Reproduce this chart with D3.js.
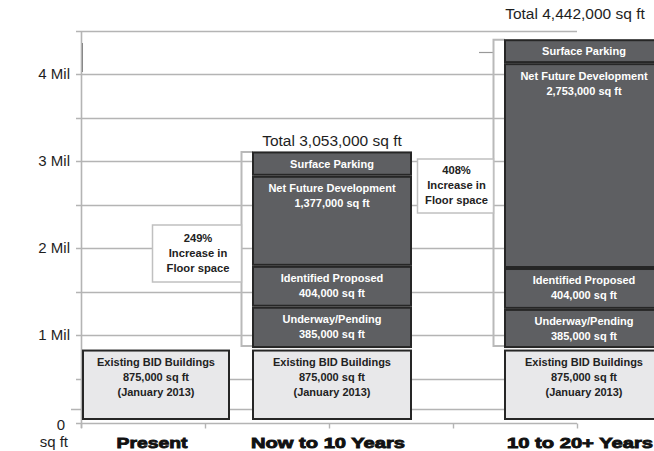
<!DOCTYPE html>
<html>
<head>
<meta charset="utf-8">
<script src="https://cdn.jsdelivr.net/npm/d3@7"></script>
<style>
  html, body { margin: 0; padding: 0; background: #fff; }
  svg { display: block; }
  text { font-family: "Liberation Sans", Arial, sans-serif; }
</style>
</head>
<body>
<svg id="chart" width="654" height="451"></svg>
<script>
// ---------------- DATA ----------------
const categories = ["Present", "Now to 10 Years", "10 to 20+ Years"];
const segmentNames = ["Existing BID Buildings", "Underway/Pending", "Identified Proposed", "Net Future Development", "Surface Parking"];
// segment heights (sq ft) as drawn in the picture, bottom to top
const presentValues = [850000, 0, 0, 0, 0];
const nowValues = [850000, 475000, 470000, 1035000, 280000];
const laterValues = [850000, 450000, 470000, 2355000, 275000];
// segment label lines
const presentLabels = [["Existing BID Buildings", "875,000 sq ft", "(January 2013)"], [], [], [], []];
const nowLabels = [["Existing BID Buildings", "875,000 sq ft", "(January 2013)"], ["Underway/Pending", "385,000 sq ft"], ["Identified Proposed", "404,000 sq ft"], ["Net Future Development", "1,377,000 sq ft"], ["Surface Parking"]];
const laterLabels = [["Existing BID Buildings", "875,000 sq ft", "(January 2013)"], ["Underway/Pending", "385,000 sq ft"], ["Identified Proposed", "404,000 sq ft"], ["Net Future Development", "2,753,000 sq ft"], ["Surface Parking"]];
const totalLabels = ["", "Total 3,053,000 sq ft", "Total 4,442,000 sq ft"];
const increaseLabels = ["", "249%", "408%"];
const increaseText = ["Increase in", "Floor space"];
const yTicks = [0, 1000000, 2000000, 3000000, 4000000];
const yTickLabels = ["0", "1 Mil", "2 Mil", "3 Mil", "4 Mil"];
const gridValues = [500000, 1000000, 1500000, 2000000, 2500000, 3000000, 3500000, 4000000, 4500000];

// ---------------- LAYOUT ----------------
const svg = d3.select("#chart");
const y = d3.scaleLinear().domain([0, 4500000]).range([422, 30.5]);
const xCenter = d3.scaleOrdinal().domain(categories).range([156, 332, 584]);
const barWidth = d3.scaleOrdinal().domain(categories).range([146, 158, 158]);
const xAxisScale = d3.scaleLinear().domain([0, 4]).range([81, 577]);

const seriesValues = [presentValues, nowValues, laterValues];
const seriesLabels = [presentLabels, nowLabels, laterLabels];

const gridColor = "#b4b4b4";
const darkFill = "#5e5f62";
const lightFill = "#e8e8ea";
const borderColor = "#262626";
const bracketColor = "#b9b9b9";

// gridlines
const grid = svg.append("g");
grid.selectAll("line.g").data(gridValues).join("line")
  .attr("x1", 76).attr("x2", 577)
  .attr("y1", d => Math.round(y(d)) + 0.5).attr("y2", d => Math.round(y(d)) + 0.5)
  .attr("stroke", gridColor).attr("stroke-width", 1.6);
// low reference line near the base
grid.append("line")
  .attr("x1", 71).attr("x2", 577)
  .attr("y1", Math.round(y(150000)) + 0.5).attr("y2", Math.round(y(150000)) + 0.5)
  .attr("stroke", gridColor).attr("stroke-width", 1.6);
// partial quarter line near the top right
grid.append("line")
  .attr("x1", 479).attr("x2", 494)
  .attr("y1", Math.round(y(4250000)) + 0.5).attr("y2", Math.round(y(4250000)) + 0.5)
  .attr("stroke", "#999").attr("stroke-width", 1.2);

// y axis line
svg.append("line").attr("x1", 81.5).attr("x2", 81.5).attr("y1", 31).attr("y2", 428)
  .attr("stroke", gridColor).attr("stroke-width", 1.6);
svg.append("line").attr("x1", 82.5).attr("x2", 82.5).attr("y1", 43).attr("y2", 72)
  .attr("stroke", "#888").attr("stroke-width", 1);

// x axis
const xAxisG = svg.append("g").attr("transform", "translate(0,423.5)")
  .call(d3.axisBottom(xAxisScale).ticks(4).tickSize(5).tickFormat(""));
xAxisG.select(".domain").attr("stroke", gridColor).attr("stroke-width", 1.6).attr("d", "M76,0H577");
xAxisG.selectAll(".tick line").attr("stroke", gridColor).attr("stroke-width", 1.4);

// y tick labels
svg.append("g").selectAll("text").data(yTicks).join("text")
  .attr("x", (d, i) => i === 0 ? 65 : 70)
  .attr("y", d => y(d) + 5 + (d === 0 ? 3 : 0))
  .attr("text-anchor", "end")
  .attr("font-size", 15)
  .attr("fill", "#1e1e1e")
  .text((d, i) => yTickLabels[i]);
svg.append("text").attr("x", 68).attr("y", 447).attr("text-anchor", "end")
  .attr("font-size", 15).attr("fill", "#1e1e1e").text("sq ft");

// brackets and increase boxes (behind bars)
const boxLayout = [null, { w: 89, h: 57, top: 225, pad: 12.7 }, { w: 76, h: 54, top: 159, pad: 11 }];
categories.forEach((cat, ci) => {
  if (!increaseLabels[ci]) return;
  const vals = seriesValues[ci];
  const total = d3.sum(vals);
  const left = xCenter(cat) - barWidth(cat) / 2;
  const bx = left - 11.5;
  const yTop = y(total) + 0.5;
  const yBot = y(vals[0]) - 2;
  const g = svg.append("g");
  g.append("path")
    .attr("d", `M${left},${yTop}H${bx}V${yBot}H${left}`)
    .attr("fill", "none").attr("stroke", bracketColor).attr("stroke-width", 2);
  const L = boxLayout[ci];
  g.append("rect")
    .attr("x", bx - L.w).attr("y", L.top).attr("width", L.w).attr("height", L.h)
    .attr("fill", "#fff").attr("stroke", "#c0c0c0").attr("stroke-width", 1.5);
  const lines = [increaseLabels[ci]].concat(increaseText);
  g.selectAll("text").data(lines).join("text")
    .attr("x", bx - L.w / 2 + 1)
    .attr("y", (d, i) => L.top + L.pad + i * 15.2)
    .attr("dy", "0.36em")
    .attr("text-anchor", "middle")
    .attr("font-size", 11.2).attr("font-weight", "bold").attr("fill", "#222")
    .text(d => d);
});

// bars
categories.forEach((cat, ci) => {
  const vals = seriesValues[ci];
  const labs = seriesLabels[ci];
  const w = barWidth(cat);
  const left = xCenter(cat) - w / 2;
  let cum = 0;
  const g = svg.append("g");
  vals.forEach((v, si) => {
    if (v <= 0) { cum += v; return; }
    const y0 = y(cum), y1 = y(cum + v);
    const topInset = si === 0 ? 2.5 : 1;
    const botInset = si === 0 ? 3 : 1;
    const rTop = y1 + topInset, rBot = y0 - botInset;
    g.append("rect")
      .attr("x", left).attr("y", rTop).attr("width", w).attr("height", rBot - rTop)
      .attr("fill", si === 0 ? lightFill : darkFill)
      .attr("stroke", borderColor).attr("stroke-width", 2);
    const lines = labs[si];
    const single = lines.length === 1;
    g.selectAll(null).data(lines).join("text")
      .attr("x", xCenter(cat))
      .attr("y", (d, i) => single ? (rTop + rBot) / 2 : rTop + 11.5 + i * 15)
      .attr("dy", "0.36em")
      .attr("text-anchor", "middle")
      .attr("font-size", 11).attr("font-weight", "bold")
      .attr("fill", si === 0 ? "#222" : "#fff")
      .text(d => d);
    cum += v;
  });
});

// totals
const totalLayout = [null, { x: 332, dy: -11 }, { x: 575, dy: -26 }];
categories.forEach((cat, ci) => {
  if (!totalLabels[ci]) return;
  const total = d3.sum(seriesValues[ci]);
  svg.append("text")
    .attr("x", totalLayout[ci].x).attr("y", y(total) + totalLayout[ci].dy)
    .attr("dy", "0.36em")
    .attr("text-anchor", "middle")
    .attr("font-size", 15.5).attr("fill", "#1e1e1e")
    .text(totalLabels[ci]);
});

// category labels
const catLabelWidth = d3.scaleOrdinal().domain(categories).range([71, 154, 146]);
svg.append("g").selectAll("text").data(categories).join("text")
  .attr("x", d => xCenter(d) - 4)
  .attr("y", 448)
  .attr("text-anchor", "middle")
  .attr("font-size", 15.5).attr("font-weight", "bold")
  .attr("fill", "#111").attr("stroke", "#111").attr("stroke-width", 0.9)
  .attr("textLength", d => catLabelWidth(d))
  .attr("lengthAdjust", "spacingAndGlyphs")
  .text(d => d);
</script>
</body>
</html>
